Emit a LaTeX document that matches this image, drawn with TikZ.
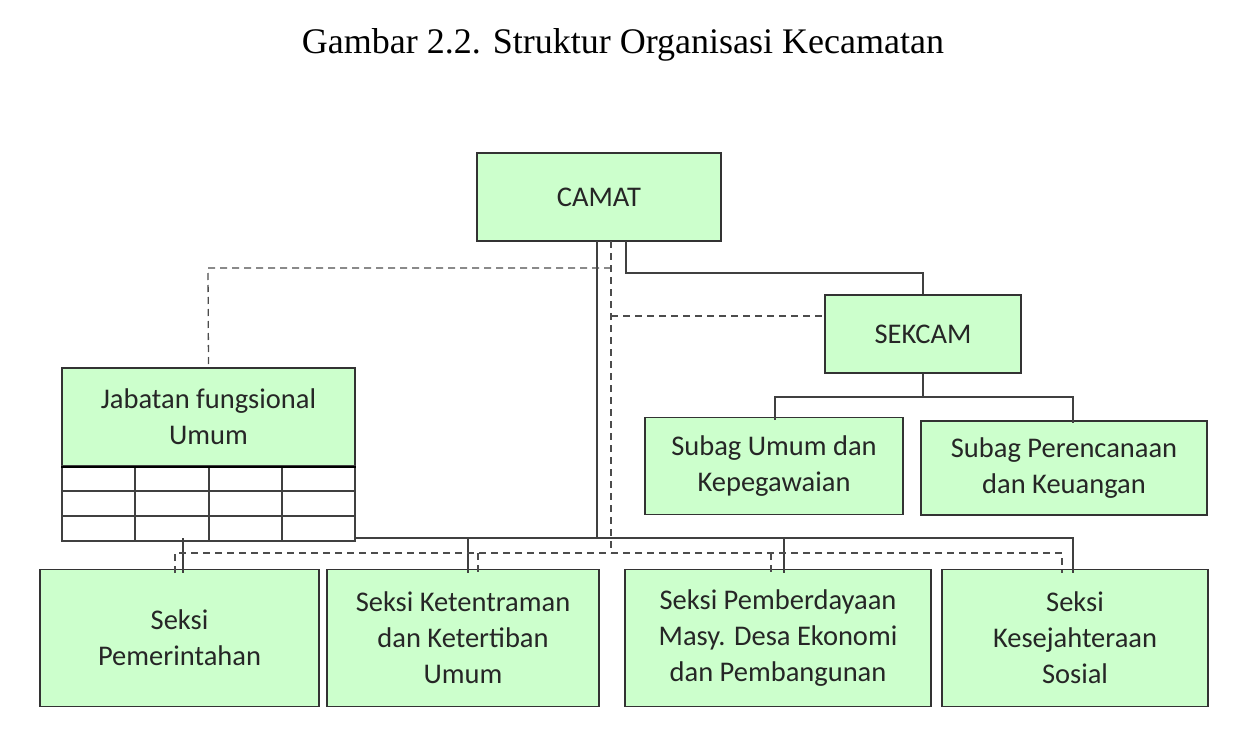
\documentclass[tikz,border=0pt]{standalone}
\usepackage{fontspec}
\setmainfont{Liberation Serif}
\newfontfamily\boxfont{Carlito}
\begin{document}
\begin{tikzpicture}[x=1pt,y=-1pt,
  bx/.style={draw=black!80,line width=1.3pt,fill=green!20,text=black!85,font=\boxfont\fontsize{28.5}{36}\selectfont,align=center},
  sl/.style={draw=black!75,line width=1.3pt},
  ds/.style={draw=black!70,line width=1.3pt,dash pattern=on 7pt off 5pt}]
\useasboundingbox (0,0) rectangle (1249,751);
\node[font=\fontsize{36}{40}\selectfont] (title) at (623,45) {Gambar 2.2. Struktur Organisasi Kecamatan};
\node[bx,minimum width=244,minimum height=88] (camat) at (599,197) {CAMAT};
\node[bx,minimum width=196,minimum height=78] (sek) at (923,334) {SEKCAM};
\node[bx,minimum width=258,minimum height=97] (su) at (774,466) {Subag Umum dan\\Kepegawaian};
\node[bx,minimum width=286,minimum height=94] (sp) at (1064,468) {Subag Perencanaan\\dan Keuangan};
\node[bx,minimum width=293,minimum height=98] (jab) at (208.5,417) {Jabatan fungsional\\Umum};
\node[bx,minimum width=279,minimum height=137] (b1) at (179.5,638) {Seksi\\Pemerintahan};
\node[bx,minimum width=272,minimum height=137] (b2) at (463,638) {Seksi Ketentraman\\dan Ketertiban\\Umum};
\node[bx,minimum width=306,minimum height=137] (b3) at (778,638) {Seksi Pemberdayaan\\Masy. Desa Ekonomi\\dan Pembangunan};
\node[bx,minimum width=266,minimum height=137] (b4) at (1075,638) {Seksi\\Kesejahteraan\\Sosial};
% table
\draw[sl] (62,466) rectangle (355,541);
\foreach \y in {491,516} \draw[sl] (62,\y) -- (355,\y);
\foreach \x in {135,209,282} \draw[sl] (\x,466) -- (\x,541);
\draw[draw=black,line width=2pt] (jab.south west) -- (jab.south east);
% solid
\coordinate (c1) at (597,241);
\draw[sl] (c1) -- (597,538);
\draw[sl] (355,538) -- (1073,538) -- (1073,573);
\foreach \x in {183,468,784} \draw[sl] (\x,538) -- (\x,573);
\draw[sl] (626,241) -- (626,273) -- (923,273) -- (sek.north);
\draw[sl] (sek.south) -- (923,397);
\draw[sl] (775,420) -- (775,397) -- (1073,397) -- (1073,423);
% dashed
\coordinate (sw) at (825,316);
\draw[ds] (611,241) -- (611,553);
\draw[ds] (611,268) -- (208,268) -- (jab.north);
\draw[ds] (611,316) -- (sw);
\draw[ds] (175,573) -- (175,553) -- (1062,553) -- (1062,573);
\draw[ds] (771,553) -- (771,573);
\draw[ds] (478,553) -- (478,573);
\end{tikzpicture}
\end{document}
